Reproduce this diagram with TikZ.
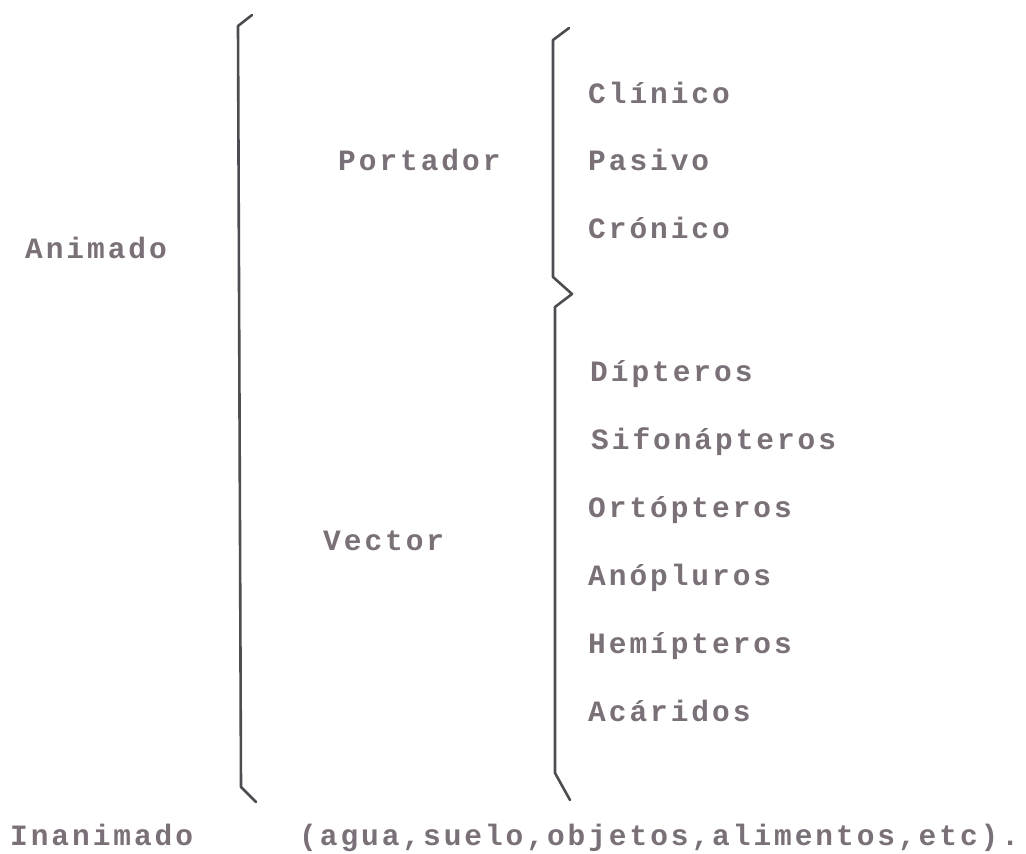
\documentclass[tikz,border=0pt]{standalone}
\usepackage{fontspec}
\newfontfamily\typew[LetterSpace=10]{Liberation Mono}
\definecolor{inkt}{RGB}{122,112,120}
\definecolor{inkl}{RGB}{78,76,80}
\tikzset{
  lbl/.style={anchor=base west, inner sep=0pt, text=inkt, font=\typew\bfseries\fontsize{29.5}{36}\selectfont},
  brk/.style={draw=inkl, line width=2.6pt, line join=round, line cap=round}
}
\begin{document}
\begin{tikzpicture}[x=1pt,y=-1pt]
\useasboundingbox[fill=white] (0,0) rectangle (1026,854);
% big bracket
\draw[brk] (252,15) -- (238,26) -- (241,787) -- (256,802);
% second bracket
\draw[brk] (569,28) -- (553,40) -- (553,277) -- (572,294) -- (555,307) -- (555,773) -- (570,800);
% labels
\node[lbl] (animado) at (25,258) {Animado};
\node[lbl] (portador) at (338,170) {Portador};
\node[lbl] (vector) at (323,550) {Vector};
\node[lbl] (clinico) at (588,103) {Clínico};
\node[lbl] (pasivo) at (588,170) {Pasivo};
\node[lbl] (cronico) at (588,238) {Crónico};
\node[lbl] (dipteros) at (590,381) {Dípteros};
\node[lbl] (sifon) at (591,449) {Sifonápteros};
\node[lbl] (ortop) at (588,517) {Ortópteros};
\node[lbl] (anop) at (588,585) {Anópluros};
\node[lbl] (hemip) at (588,653) {Hemípteros};
\node[lbl] (acar) at (588,721) {Acáridos};
\node[lbl] (inanimado) at (10,845) {Inanimado};
\node[lbl] (agua) at (299,845) {(agua,suelo,objetos,alimentos,etc).};
\end{tikzpicture}
\end{document}
